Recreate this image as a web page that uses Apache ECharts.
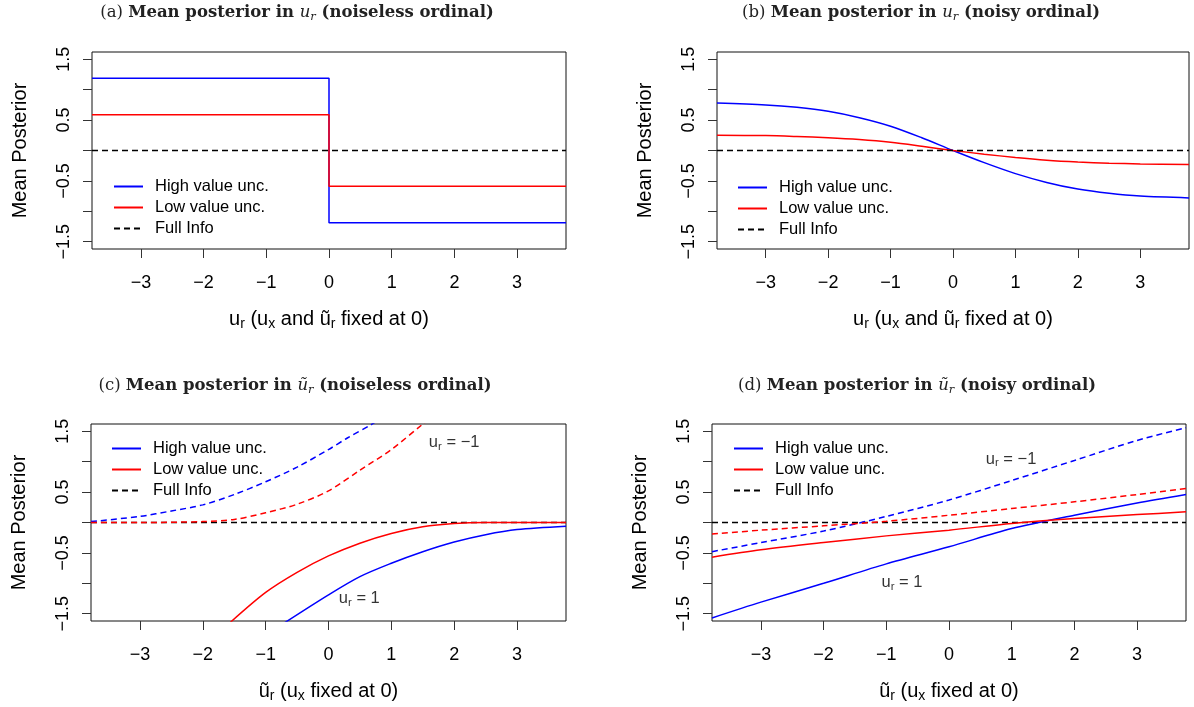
<!DOCTYPE html>
<html>

<head>
    <meta charset="UTF-8">
    <title>Mean posterior</title>
    <style>
        html, body { margin: 0; padding: 0; background: #fff; }
    </style>
</head>

<body>
    <div id="container" style="width: 1194px;height: 707px;"></div>
    <script src="https://cdn.jsdelivr.net/npm/echarts@6/dist/echarts.min.js"></script>
    <script type="text/javascript">
        // tick values
        var xTicks = [-3, -2, -1, 0, 1, 2, 3];
        var yTicks = [-1.5, -1, -0.5, 0, 0.5, 1, 1.5];
        var yTickLabels = [-1.5, -0.5, 0.5, 1.5];

        // full info reference line
        var fullX = [-3.78, 3.78];
        var fullY = [0, 0];

        // (a) noiseless ordinal, in u_r
        var aX = [-3.78, 0, 0, 3.78];
        var aHigh = [1.19, 1.19, -1.19, -1.19];
        var aLow = [0.59, 0.59, -0.59, -0.59];

        // (b) noisy ordinal, in u_r
        var bX = [-3.78, -3, -2.5, -2, -1.5, -1, -0.5, 0, 0.5, 1, 1.5, 2, 2.5, 3, 3.78];
        var bHigh = [0.78, 0.75, 0.71, 0.645, 0.54, 0.4, 0.21, 0.0, -0.2, -0.38, -0.525, -0.635, -0.705, -0.75, -0.78];
        var bLow = [0.25, 0.245, 0.23, 0.21, 0.18, 0.135, 0.07, 0.0, -0.06, -0.115, -0.16, -0.19, -0.21, -0.22, -0.23];

        // (c) noiseless ordinal, in u~_r  (solid: u_r = 1, dashed: u_r = -1)
        var cHighX = [-0.7, 0, 0.5, 1, 1.5, 2, 2.5, 3, 3.78];
        var cHigh = [-1.65, -1.19, -0.89, -0.67, -0.48, -0.32, -0.2, -0.115, -0.06];
        var cLowX = [-1.56, -1, -0.5, 0, 0.5, 1, 1.5, 2, 2.5, 3, 3.78];
        var cLow = [-1.64, -1.15, -0.82, -0.55, -0.34, -0.18, -0.07, -0.016, 0.0, 0.0, 0.0];
        var cHighDashX = [-3.78, -3, -2.5, -2, -1.5, -1, -0.5, 0, 0.3, 0.68, 0.9];
        var cHighDash = [0.015, 0.1, 0.19, 0.29, 0.46, 0.67, 0.91, 1.2, 1.39, 1.61, 1.76];
        var cLowDashX = [-3.78, -3, -2, -1.5, -1, -0.5, 0, 0.5, 1, 1.49, 1.7];
        var cLowDash = [0.0, 0.0, 0.015, 0.05, 0.16, 0.3, 0.52, 0.86, 1.2, 1.61, 1.78];

        // (d) noisy ordinal, in u~_r
        var dX = [-3.78, -3, -2, -1, 0, 1, 2, 3, 3.78];
        var dHigh = [-1.57, -1.31, -1.0, -0.68, -0.4, -0.1, 0.12, 0.32, 0.46];
        var dLow = [-0.57, -0.45, -0.33, -0.22, -0.126, -0.016, 0.066, 0.13, 0.175];
        var dHighDash = [-0.48, -0.33, -0.14, 0.1, 0.37, 0.69, 1.02, 1.35, 1.56];
        var dLowDash = [-0.19, -0.126, -0.055, 0.02, 0.12, 0.23, 0.34, 0.46, 0.56];

        // annotation positions [x, y]
        var cLabelMinus = [2.0, 1.31];
        var cLabelPlus = [0.49, -1.25];
        var dLabelMinus = [0.99, 1.04];
        var dLabelPlus = [-0.75, -0.99];

        var legendNames = ['High value unc.', 'Low value unc.', 'Full Info'];
        var BLUE = '#0000ff', RED = '#ff0000', BLACK = '#000000';
        var SANS = 'Liberation Sans', SERIF = 'DejaVu Serif';

        function pairs(xs, ys) {
            return xs.map(function (x, i) { return [x, ys[i]]; });
        }

        function line(name, k, xs, ys, color, dashed, smooth) {
            return {
                name: name,
                type: 'line',
                xAxisIndex: k,
                yAxisIndex: k,
                data: pairs(xs, ys),
                symbol: 'none',
                smooth: smooth ? 0.3 : false,
                lineStyle: { color: color, width: 1.5, type: dashed ? [6, 4] : 'solid' },
                itemStyle: { color: color },
                silent: true
            };
        }

        function note(k, pos, txt) {
            return {
                type: 'scatter',
                xAxisIndex: k,
                yAxisIndex: k,
                data: [pos],
                symbolSize: 0.1,
                itemStyle: { color: 'transparent' },
                silent: true,
                label: {
                    show: true,
                    position: 'inside',
                    formatter: '{u|u}{s|r}{u| = ' + txt + '}',
                    rich: {
                        u: { fontFamily: SANS, fontSize: 16.5, color: '#000', lineHeight: 20 },
                        s: { fontFamily: SANS, fontSize: 11.5, color: '#000', verticalAlign: 'bottom', lineHeight: 12 }
                    }
                }
            };
        }

        var grids = [
            { left: 92, top: 52, width: 474, height: 197 },
            { left: 717, top: 52, width: 472, height: 197 },
            { left: 91, top: 424, width: 475, height: 197 },
            { left: 712, top: 424, width: 474, height: 197 }
        ];
        grids.forEach(function (g) {
            g.show = true;
            g.borderColor = '#111';
            g.borderWidth = 1;
            g.backgroundColor = 'transparent';
            g.containLabel = false;
        });

        var subRich = {
            m: { fontFamily: SANS, fontSize: 20, color: '#000', lineHeight: 24 },
            s: { fontFamily: SANS, fontSize: 14, color: '#000', verticalAlign: 'bottom', lineHeight: 14 }
        };
        var xNames = [
            '{m|u}{s|r}{m| (u}{s|x}{m| and ũ}{s|r}{m| fixed at 0)}',
            '{m|u}{s|r}{m| (u}{s|x}{m| and ũ}{s|r}{m| fixed at 0)}',
            '{m|ũ}{s|r}{m| (u}{s|x}{m| fixed at 0)}',
            '{m|ũ}{s|r}{m| (u}{s|x}{m| fixed at 0)}'
        ];

        function minus(v) {
            return v < 0 ? '\u2212' + Math.abs(v) : String(v);
        }

        var xAxes = [0, 1, 2, 3].map(function (k) {
            return {
                type: 'value',
                gridIndex: k,
                min: -3.78,
                max: 3.78,
                name: xNames[k],
                nameLocation: 'middle',
                nameGap: 58,
                nameTextStyle: { rich: subRich },
                axisLine: { show: false, onZero: false },
                splitLine: { show: false },
                axisTick: { show: true, length: 9, customValues: xTicks, lineStyle: { color: '#333', width: 1 } },
                axisLabel: {
                    customValues: xTicks, margin: 25, fontFamily: SANS, fontSize: 18, color: '#000',
                    formatter: minus
                }
            };
        });

        var yAxes = [0, 1, 2, 3].map(function (k) {
            return {
                type: 'value',
                gridIndex: k,
                min: -1.62,
                max: 1.62,
                name: 'Mean Posterior',
                nameLocation: 'middle',
                nameGap: 62,
                nameTextStyle: { fontFamily: SANS, fontSize: 20, color: '#000' },
                axisLine: { show: false, onZero: false },
                splitLine: { show: false },
                axisTick: { show: true, length: 9, customValues: yTicks, lineStyle: { color: '#333', width: 1 } },
                axisLabel: {
                    customValues: yTickLabels, rotate: 90, margin: 19, fontFamily: SANS, fontSize: 18, color: '#000',
                    formatter: minus
                }
            };
        });

        var titleRich = {
            n: { fontFamily: SERIF, fontSize: 16.5, fontWeight: 'normal', color: '#222', lineHeight: 20 },
            b: { fontFamily: SERIF, fontSize: 16.5, fontWeight: 'bold', color: '#222', lineHeight: 20 },
            i: { fontFamily: SERIF, fontSize: 16.5, fontWeight: 'normal', fontStyle: 'italic', color: '#222', lineHeight: 20 },
            s: { fontFamily: SERIF, fontSize: 11.5, fontWeight: 'normal', fontStyle: 'italic', color: '#222', verticalAlign: 'bottom', lineHeight: 13 }
        };
        var titleTexts = [
            '{n|(a) }{b|Mean posterior in }{i|u}{s|r}{b| (noiseless ordinal)}',
            '{n|(b) }{b|Mean posterior in }{i|u}{s|r}{b| (noisy ordinal)}',
            '{n|(c) }{b|Mean posterior in }{i|ũ}{s|r}{b| (noiseless ordinal)}',
            '{n|(d) }{b|Mean posterior in }{i|ũ}{s|r}{b| (noisy ordinal)}'
        ];
        var titlePos = [[297, 3], [921, 3], [295, 376], [917, 376]];
        var titles = titleTexts.map(function (t, k) {
            return {
                text: t,
                left: titlePos[k][0],
                top: titlePos[k][1],
                textAlign: 'center',
                padding: 0,
                textStyle: { fontWeight: 'normal', rich: titleRich }
            };
        });

        var legendPos = [[113, 178], [737, 179], [111, 440], [733, 440]];
        var legends = legendPos.map(function (p) {
            return {
                data: legendNames,
                orient: 'vertical',
                left: p[0],
                top: p[1],
                padding: 0,
                itemWidth: 29,
                itemHeight: 14,
                itemGap: 4,
                selectedMode: false,
                itemStyle: { opacity: 0 },
                textStyle: { fontFamily: SANS, fontSize: 16.5, color: '#000', padding: [0, 0, 0, 7] }
            };
        });

        var series = [
            line('High value unc.', 0, aX, aHigh, BLUE, false, false),
            line('Low value unc.', 0, aX, aLow, RED, false, false),
            line('Full Info', 0, fullX, fullY, BLACK, true, false),

            line('High value unc.', 1, bX, bHigh, BLUE, false, true),
            line('Low value unc.', 1, bX, bLow, RED, false, true),
            line('Full Info', 1, fullX, fullY, BLACK, true, false),

            line('Full Info', 2, fullX, fullY, BLACK, true, false),
            line('High value unc. (u_r=-1)', 2, cHighDashX, cHighDash, BLUE, true, true),
            line('Low value unc. (u_r=-1)', 2, cLowDashX, cLowDash, RED, true, true),
            line('High value unc.', 2, cHighX, cHigh, BLUE, false, true),
            line('Low value unc.', 2, cLowX, cLow, RED, false, true),
            note(2, cLabelMinus, '\u22121'),
            note(2, cLabelPlus, '1'),

            line('Full Info', 3, fullX, fullY, BLACK, true, false),
            line('High value unc. (u_r=-1)', 3, dX, dHighDash, BLUE, true, true),
            line('Low value unc. (u_r=-1)', 3, dX, dLowDash, RED, true, true),
            line('High value unc.', 3, dX, dHigh, BLUE, false, true),
            line('Low value unc.', 3, dX, dLow, RED, false, true),
            note(3, dLabelMinus, '\u22121'),
            note(3, dLabelPlus, '1')
        ];

        var myChart = echarts.init(document.getElementById('container'), null, { renderer: 'canvas' });
        var option = {
            animation: false,
            backgroundColor: '#fff',
            title: titles,
            legend: legends,
            grid: grids,
            xAxis: xAxes,
            yAxis: yAxes,
            series: series
        };
        myChart.setOption(option);
    </script>
</body>

</html>
